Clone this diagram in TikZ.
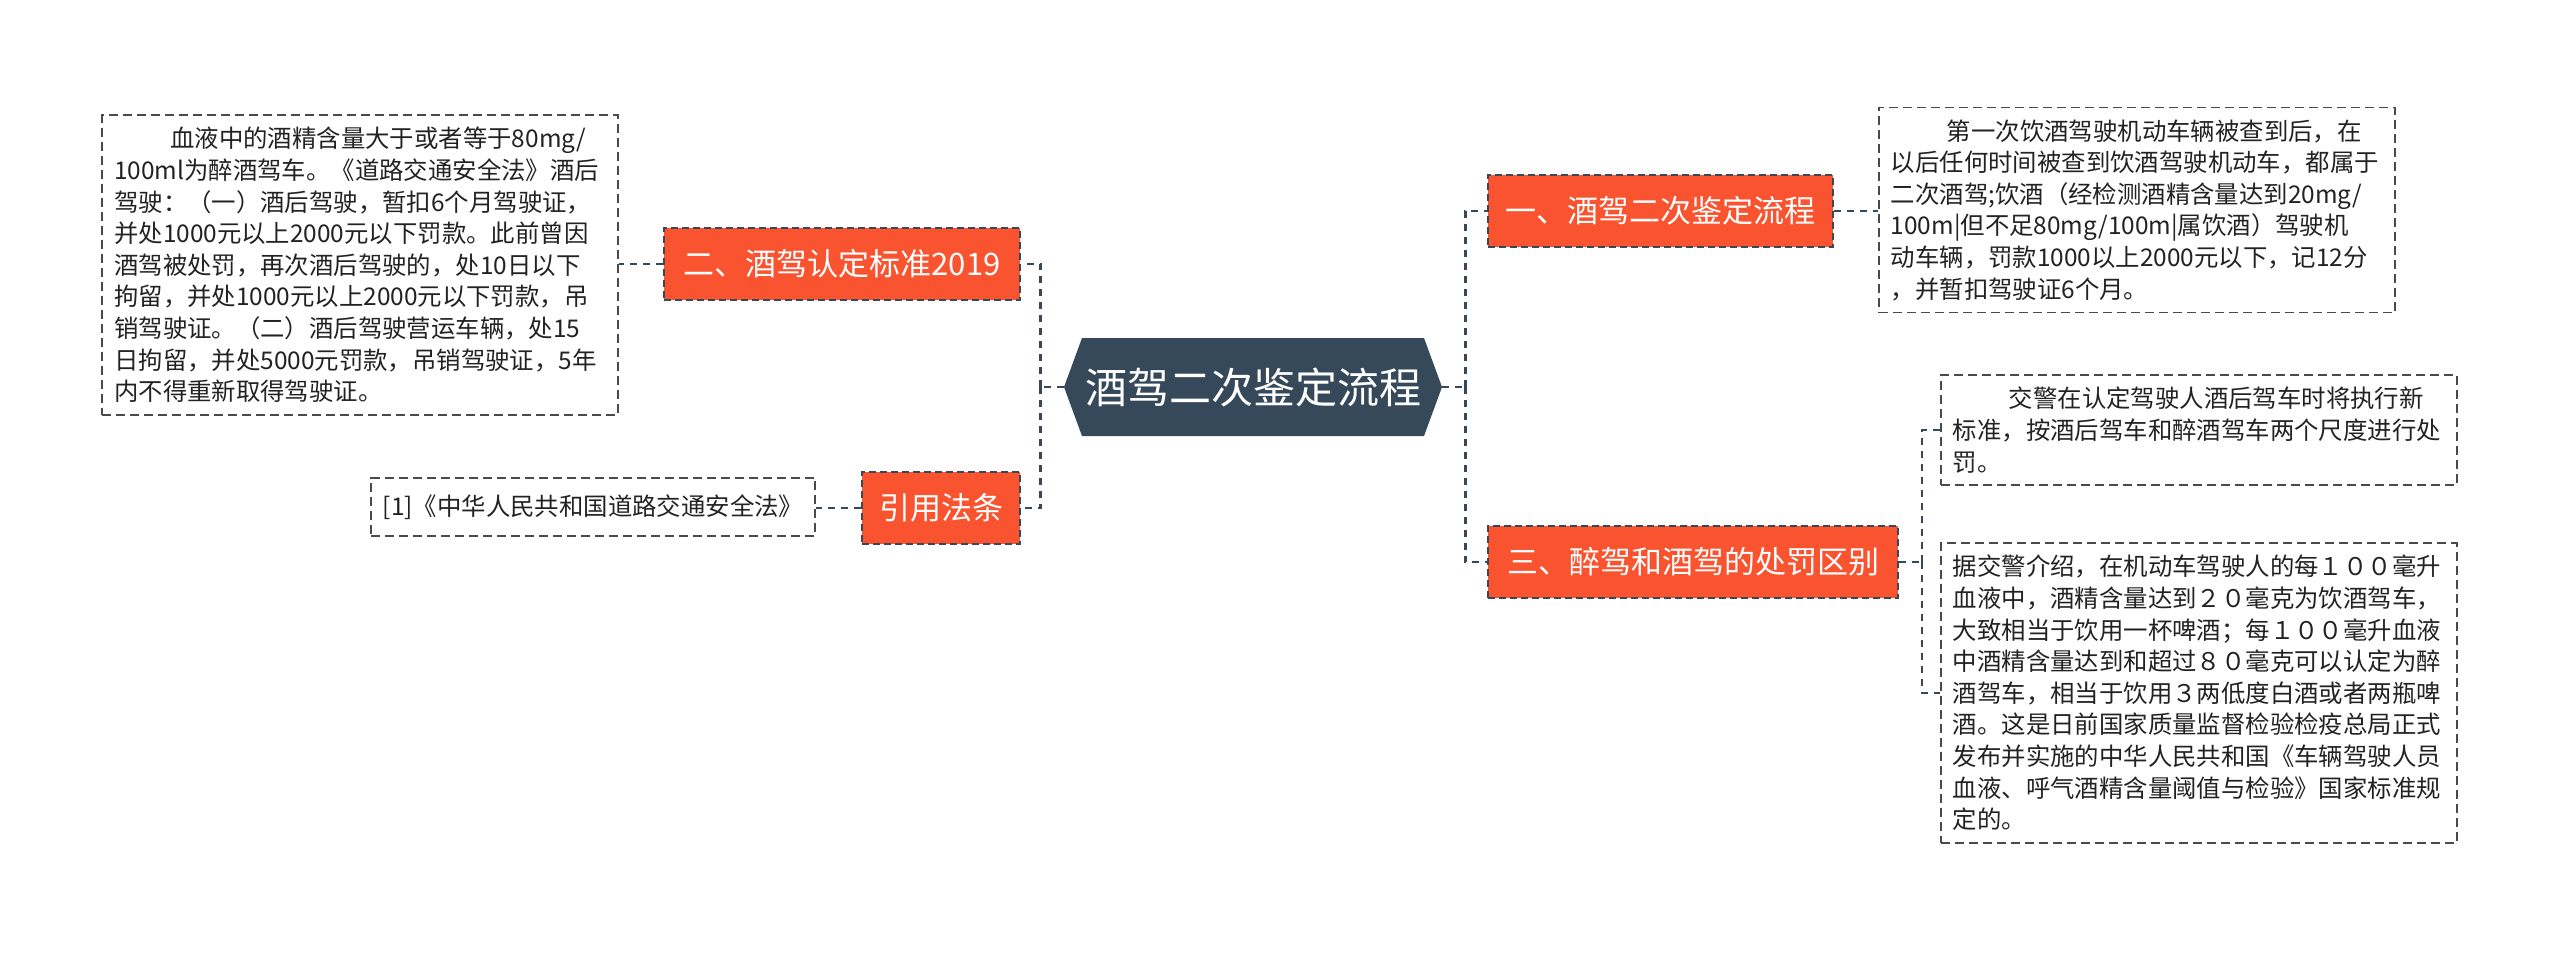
\documentclass[tikz,border=0pt]{standalone}
\usepackage{fontspec}
\setmainfont{Noto Sans CJK SC}
\usepackage{tikz}
\usetikzlibrary{positioning}
\usepackage{xcolor}
\definecolor{hubcol}{HTML}{35495A}
\definecolor{branchcol}{HTML}{F9532F}
\definecolor{linecol}{HTML}{35495A}
\definecolor{leafline}{HTML}{4A4A4A}
\definecolor{leaftext}{HTML}{222222}

\begin{document}
\begin{tikzpicture}[x=0.5pt, y=-0.5pt,
  hub/.style={rectangle, text=white, minimum width=189pt, minimum height=49pt, inner sep=0pt,
              font=\fontsize{21}{25}\selectfont,
              path picture={\fill[hubcol] (path picture bounding box.west)
                 -- ([xshift=9pt]path picture bounding box.north west)
                 -- ([xshift=-9pt]path picture bounding box.north east)
                 -- (path picture bounding box.east)
                 -- ([xshift=-9pt]path picture bounding box.south east)
                 -- ([xshift=9pt]path picture bounding box.south west) -- cycle;}},
  branch/.style={draw=linecol, dash pattern=on 3.5pt off 2pt, line width=1pt, fill=branchcol,
                 text=white, minimum height=36pt, inner xsep=8pt, font=\fontsize{15.5}{18}\selectfont},
  leaf/.style={draw=leafline, dash pattern=on 4.5pt off 2.5pt, line width=0.8pt, text=leaftext,
               inner xsep=6pt, inner ysep=6pt, align=left, font=\fontsize{12.2}{15.8}\selectfont},
  leafwide/.style={leaf, text width=246pt},
  link/.style={draw=linecol, line width=1.4pt, dash pattern=on 3.5pt off 3pt}]
  \useasboundingbox (0,0) rectangle (2560,953);
  \node[hub] (hub) at (1253,387) {酒驾二次鉴定流程};
  \node[branch, minimum width=172.5pt, anchor=west] (second) at (1487,211) {一、酒驾二次鉴定流程};
  \node[branch, minimum width=205pt, anchor=west]   (diff)   at (1487,562) {三、醉驾和酒驾的处罚区别};
  \node[branch, minimum width=178pt, anchor=east]   (std)    at (1021,264) {二、酒驾认定标准2019};
  \node[branch, minimum width=79pt, anchor=east]    (law)    at (1021,508) {引用法条};
  \node[leafwide, anchor=west] (secondtxt) at (1878,210) {\hspace*{2.3em}第一次饮酒驾驶机动车辆被查到后，在\\
    以后任何时间被查到饮酒驾驶机动车，都属于\\
    二次酒驾;饮酒（经检测酒精含量达到20mg/\\
    100m|但不足80mg/100m|属饮酒）驾驶机\\
    动车辆，罚款1000以上2000元以下，记12分\\
    ，并暂扣驾驶证6个月。};
  \node[leafwide, anchor=west] (diffa) at (1940,430) {\hspace*{2.3em}交警在认定驾驶人酒后驾车时将执行新\\
    标准，按酒后驾车和醉酒驾车两个尺度进行处\\
    罚。};
  \node[leafwide, anchor=west] (diffb) at (1940,693) {据交警介绍，在机动车驾驶人的每１００毫升\\
    血液中，酒精含量达到２０毫克为饮酒驾车，\\
    大致相当于饮用一杯啤酒；每１００毫升血液\\
    中酒精含量达到和超过８０毫克可以认定为醉\\
    酒驾车，相当于饮用３两低度白酒或者两瓶啤\\
    酒。这是日前国家质量监督检验检疫总局正式\\
    发布并实施的中华人民共和国《车辆驾驶人员\\
    血液、呼气酒精含量阈值与检验》国家标准规\\
    定的。};
  \node[leafwide, anchor=east] (stdtxt) at (619,265) {\hspace*{2.3em}血液中的酒精含量大于或者等于80mg/\\
    100ml为醉酒驾车。《道路交通安全法》酒后\\
    驾驶：（一）酒后驾驶，暂扣6个月驾驶证，\\
    并处1000元以上2000元以下罚款。此前曾因\\
    酒驾被处罚，再次酒后驾驶的，处10日以下\\
    拘留，并处1000元以上2000元以下罚款，吊\\
    销驾驶证。（二）酒后驾驶营运车辆，处15\\
    日拘留，并处5000元罚款，吊销驾驶证，5年\\
    内不得重新取得驾驶证。};
  \node[leaf, minimum width=222pt, minimum height=29pt, anchor=east] (lawtxt) at (816,507) {[1]《中华人民共和国道路交通安全法》};
  \draw[link] (hub.east) -- ++(23,0) coordinate (rj);
  \draw[link] (rj) |- (second.west);
  \draw[link] (rj) |- (diff.west);
  \draw[link] (hub.west) -- ++(-23,0) coordinate (lj);
  \draw[link] (lj) |- (std.east);
  \draw[link] (lj) |- (law.east);
  \draw[link] (second.east) -- (second.east -| secondtxt.west);
  \draw[link] (diff.east) -- ++(23,0) coordinate (dj);
  \draw[link] (dj) |- (diffa.west);
  \draw[link] (dj) |- (diffb.west);
  \draw[link] (std.west) -- (std.west -| stdtxt.east);
  \draw[link] (law.west) -- (law.west -| lawtxt.east);
\end{tikzpicture}
\end{document}
